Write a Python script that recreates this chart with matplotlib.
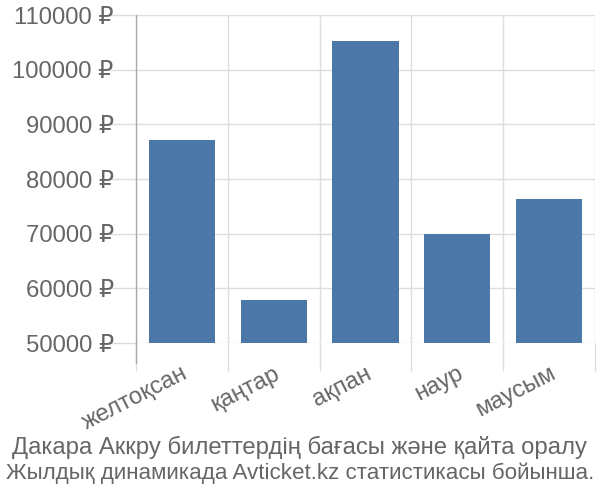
import matplotlib
matplotlib.use("Agg")
import matplotlib.pyplot as plt
import numpy as np

categories = ["желтоқсан", "қаңтар", "ақпан", "наур", "маусым"]
values = [87100, 57800, 105200, 69900, 76300]
yticks = [50000, 60000, 70000, 80000, 90000, 100000, 110000]
ytick_labels = [f"{v} ₽" for v in yticks]
title_lines = ["Дакара Аккру билеттердің бағасы және қайта оралу",
               "Жылдық динамикада Avticket.kz статистикасы бойынша."]

plt.rcParams['font.family'] = ['Liberation Sans', 'DejaVu Sans']

fig = plt.figure(figsize=(6, 5), dpi=100)
ax = fig.add_axes([136/600, 1-343/500, (595-136)/600, (343-15)/500])

x = np.arange(len(categories))
ax.bar(x, [v - 50000 for v in values], bottom=50000, width=0.72, color="#4c78a8", zorder=3)

ax.set_xlim(-0.5, len(categories) - 0.5)
ax.set_ylim(50000, 110000)

grid_c = "#dddddd"
text_c = "#666666"
fs = 17.2
ax.set_yticks(yticks)
ax.set_yticklabels(ytick_labels, fontsize=fs, color=text_c)
ax.tick_params(axis='y', length=19, color=grid_c, width=1, pad=-3)

ax.set_xticks(x)
ax.set_xticklabels(categories, fontsize=fs, color=text_c, rotation=27,
                   ha='right', va='top', rotation_mode='anchor')
ax.tick_params(axis='x', which='major', length=0, pad=14)
ax.set_xticks(np.arange(-0.5, len(categories)), minor=True)
ax.tick_params(axis='x', which='minor', length=20, color=grid_c, width=1)

ax.grid(True, axis='y', color=grid_c, linewidth=1, zorder=0)
ax.grid(True, axis='x', which='minor', color=grid_c, linewidth=1, zorder=0)

for s in ['top', 'right', 'bottom']:
    ax.spines[s].set_visible(False)
ax.spines['left'].set_color("#aaaaaa")
ax.spines['left'].set_linewidth(1)
ax.plot([0, 0], [0, -20/328], transform=ax.transAxes, color="#aaaaaa", lw=1, clip_on=False, zorder=4)

fig.text(0.5, 1-447/500, title_lines[0], ha='center', va='center', fontsize=17.2, color=text_c)
fig.text(0.5, 1-473/500, title_lines[1], ha='center', va='center', fontsize=16.1, color=text_c)

fig.savefig("out.png", dpi=100)
